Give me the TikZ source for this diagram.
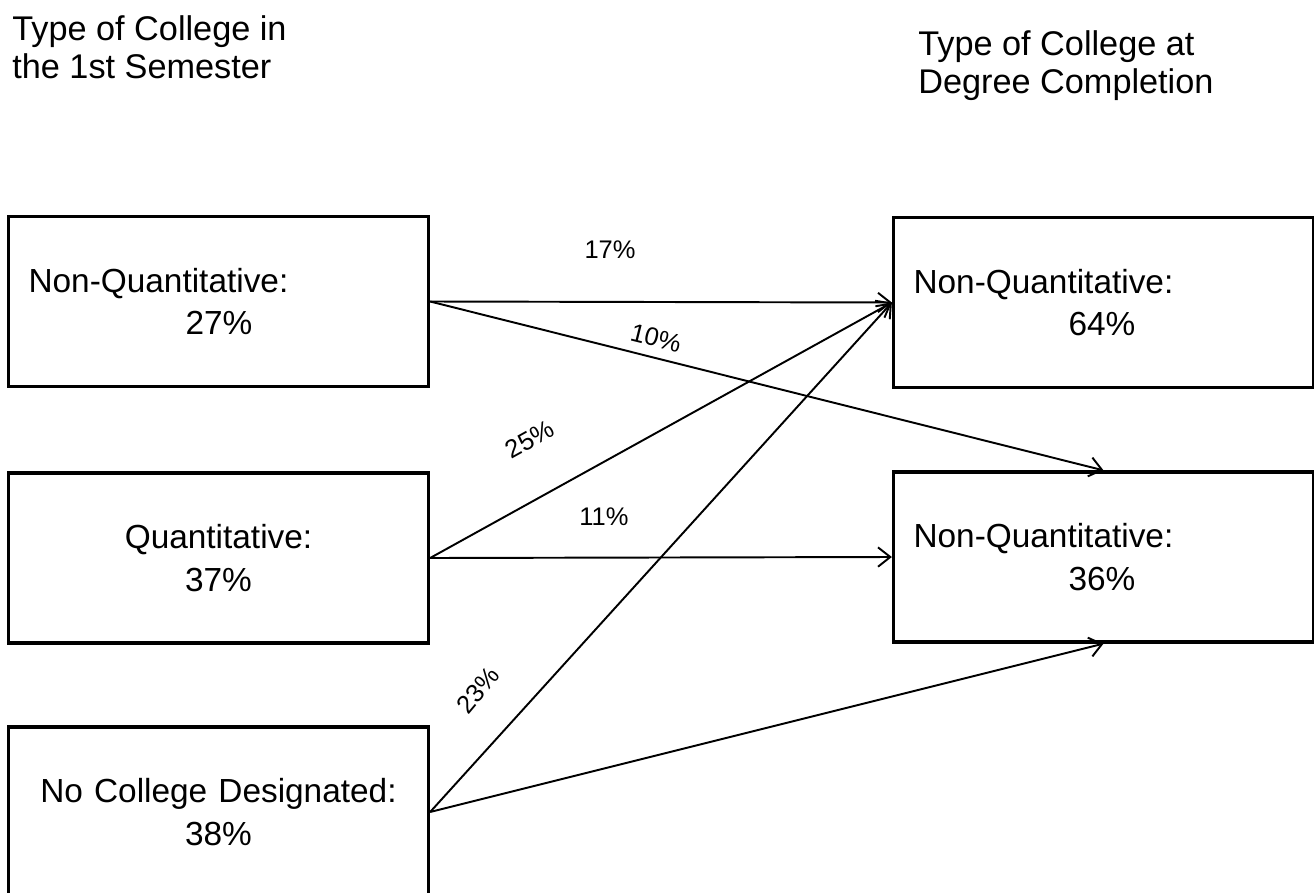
\documentclass[tikz,border=0pt]{standalone}
\usepackage{fontspec}
\setmainfont{Liberation Sans}
\usetikzlibrary{arrows.meta}

\begin{document}
\begin{tikzpicture}[x=0.02cm,y=-0.02cm,
    stagebox/.style={draw,line width=1.9pt,minimum width=8.4cm,minimum height=3.4cm,inner sep=0pt,font=\fontsize{19}{24}\selectfont},
    leftbox/.style={stagebox,text width=7.6cm,align=left},
    midbox/.style={stagebox,text width=8cm,align=center},
    flow/.style={line width=1.1pt,-{Straight Barb[length=7pt,width=11pt,line width=1.1pt]}},
    pct/.style={font=\fontsize{14.5}{17}\selectfont},
    heading/.style={anchor=north west,align=left,inner sep=0pt,font=\fontsize{19.5}{22}\selectfont}]

    \clip (0,0) rectangle (1314,892);

    % Headings
    \node[heading] (startHead) at (12,15) {Type of College in\\the 1st Semester};
    \node[heading] (endHead) at (918,30) {Type of College at\\Degree Completion};

    % Colleges in the first semester
    \node[leftbox] (nqFirst) at (218.5,301.5) {Non-Quantitative:\\\hspace*{3.14cm}27\%};
    \node[midbox] (qFirst) at (218.5,558) {Quantitative:\\37\%};
    \node[midbox] (noneFirst) at (218.5,812) {No College Designated:\\38\%};

    % Colleges at degree completion
    \node[leftbox] (nqEnd) at (1103.5,302.5) {Non-Quantitative:\\\hspace*{3.1cm}64\%};
    \node[leftbox] (nqEndB) at (1103.5,557) {Non-Quantitative:\\\hspace*{3.1cm}36\%};

    % Flows between colleges
    \draw[flow] (nqFirst.east) -- (nqEnd.west);
    \draw[flow] (nqFirst.east) -- (nqEndB.north);
    \draw[flow] (qFirst.east) -- (nqEnd.west);
    \draw[flow] (qFirst.east) -- (nqEndB.west);
    \draw[flow] (noneFirst.east) -- (nqEnd.west);
    \draw[flow] (noneFirst.east) -- (nqEndB.south);

    % Flow shares
    \node[pct] (shareA) at (610,250) {17\%};
    \node[pct,rotate=-14] (shareB) at (656,338) {10\%};
    \node[pct,rotate=29] (shareC) at (530,439) {25\%};
    \node[pct] (shareD) at (604,517) {11\%};
    \node[pct,rotate=50] (shareE) at (478,690) {23\%};
\end{tikzpicture}
\end{document}
